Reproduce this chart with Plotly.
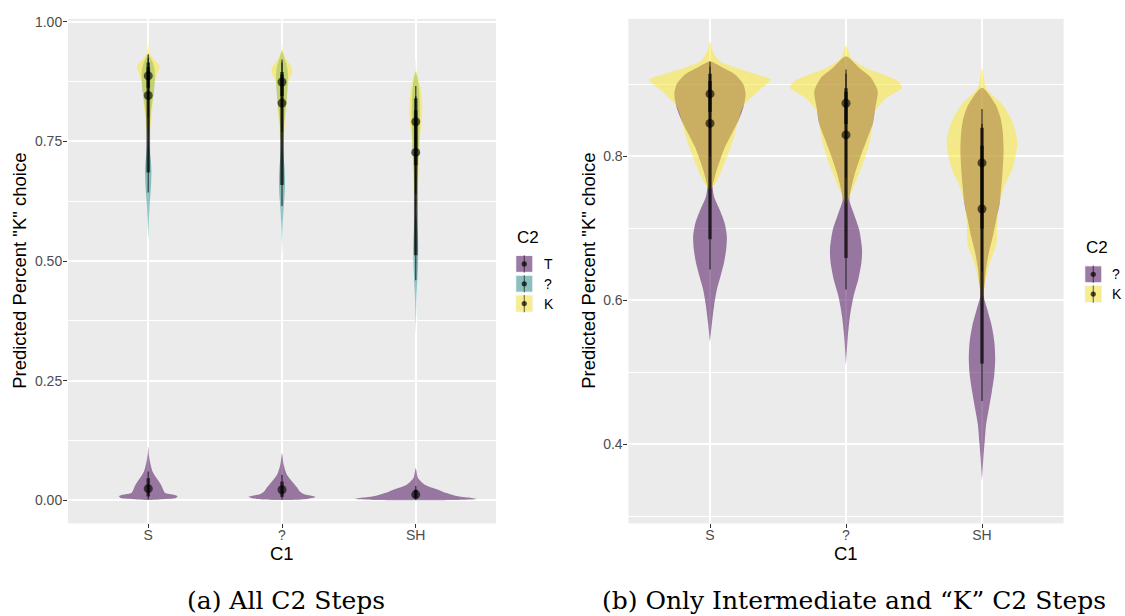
import plotly.graph_objects as go

W, H = 1125, 616

# ---------------- data ----------------
CATEGORIES = ["S", "?", "SH"]
C2_ALL = ["T", "?", "K"]
C2_SUB = ["?", "K"]

# violin profiles: y values (top -> bottom) and half-widths (category units, panel b scale)
K_S_Y = [0.960, 0.946, 0.932, 0.923, 0.914, 0.907, 0.891, 0.870, 0.850, 0.827, 0.804, 0.781, 0.762, 0.753]
K_S_W = [0.0, 0.020, 0.074, 0.196, 0.343, 0.446, 0.355, 0.245, 0.208, 0.176, 0.135, 0.086, 0.037, 0.0]
K_Q_Y = [0.9545, 0.937, 0.923, 0.914, 0.905, 0.8957, 0.882, 0.8635, 0.845, 0.822, 0.799, 0.776, 0.753, 0.7394, 0.7325]
K_Q_W = [0.0, 0.037, 0.147, 0.270, 0.380, 0.412, 0.300, 0.216, 0.196, 0.176, 0.140, 0.095, 0.045, 0.015, 0.0]
K_SH_Y = [0.9233, 0.8957, 0.8728, 0.8544, 0.836, 0.8176, 0.7992, 0.7809, 0.7625, 0.7441, 0.7257, 0.7073,
          0.6889, 0.6751, 0.6613, 0.643, 0.6246, 0.6062, 0.5924]
K_SH_W = [0.0, 0.030, 0.147, 0.208, 0.245, 0.260, 0.245, 0.220, 0.172, 0.140, 0.120, 0.112, 0.110, 0.103,
          0.074, 0.044, 0.0245, 0.007, 0.0]

Q_S_Y = [0.932, 0.923, 0.914, 0.9004, 0.8866, 0.8682, 0.8498, 0.8314, 0.8131, 0.7947, 0.7763, 0.7579, 0.7441,
         0.7257, 0.7073, 0.6889, 0.6706, 0.6522, 0.6338, 0.6154, 0.5924, 0.5694, 0.5419]
Q_S_W = [0.0, 0.098, 0.184, 0.245, 0.262, 0.245, 0.208, 0.159, 0.110, 0.074, 0.042, 0.020, 0.030, 0.072, 0.108,
         0.124, 0.119, 0.103, 0.078, 0.051, 0.030, 0.015, 0.0]
Q_Q_Y = [0.9394, 0.923, 0.9095, 0.891, 0.868, 0.845, 0.822, 0.799, 0.776, 0.753, 0.7394, 0.721, 0.698, 0.6705,
         0.652, 0.629, 0.606, 0.579, 0.547, 0.510]
Q_Q_W = [0.0, 0.098, 0.184, 0.233, 0.216, 0.196, 0.150, 0.105, 0.065, 0.035, 0.0245, 0.056, 0.097, 0.118, 0.113,
         0.090, 0.056, 0.030, 0.012, 0.0]
Q_SH_Y = [0.8957, 0.8728, 0.8544, 0.836, 0.8084, 0.7809, 0.7579, 0.7349, 0.7119, 0.6889, 0.6659, 0.643, 0.6246,
          0.6062, 0.5878, 0.5648, 0.5418, 0.5188, 0.4958, 0.4728, 0.4498, 0.4268, 0.4039, 0.3809, 0.3487]
Q_SH_W = [0.0, 0.098, 0.135, 0.152, 0.159, 0.152, 0.142, 0.130, 0.105, 0.080, 0.050, 0.029, 0.020, 0.012, 0.038,
          0.071, 0.091, 0.097, 0.090, 0.072, 0.051, 0.030, 0.020, 0.010, 0.0]

# "T" violins (panel a only, panel a scale)
T_S_Y = [0.112, 0.0947, 0.0809, 0.0602, 0.0463, 0.0325, 0.0201, 0.0152, 0.0118, 0.0083, 0.0048, 0.0021, 0.0007]
T_S_W = [0.0, 0.005, 0.0125, 0.032, 0.062, 0.095, 0.115, 0.127, 0.182, 0.219, 0.207, 0.100, 0.025]
T_Q_Y = [0.0982, 0.074, 0.0532, 0.0394, 0.027, 0.0187, 0.0131, 0.0097, 0.007, 0.0028, 0.0007]
T_Q_W = [0.0, 0.0125, 0.037, 0.075, 0.112, 0.132, 0.162, 0.212, 0.249, 0.187, 0.062]
T_SH_Y = [0.067, 0.0463, 0.0325, 0.0222, 0.0152, 0.0083, 0.0048, 0.0028, 0.0007]
T_SH_W = [0.0, 0.017, 0.067, 0.167, 0.229, 0.316, 0.416, 0.453, 0.290]

# point-interval summaries (median, 66% thick, 95% thin)
Q_MEDIAN = [0.846, 0.830, 0.727]
Q_THICK_LO = [0.685, 0.659, 0.512]
Q_THICK_HI = [0.915, 0.890, 0.840]
Q_THIN_LO = [0.643, 0.615, 0.460]
Q_THIN_HI = [0.932, 0.921, 0.866]
K_MEDIAN = [0.887, 0.874, 0.791]
K_THICK_LO = [0.862, 0.845, 0.700]
K_THICK_HI = [0.905, 0.895, 0.815]
K_THIN_LO = [0.800, 0.770, 0.640]
K_THIN_HI = [0.925, 0.915, 0.845]
T_MEDIAN = [0.0242, 0.022, 0.0118]
T_THICK_LO = [0.008, 0.007, 0.004]
T_THICK_HI = [0.046, 0.039, 0.022]
T_THIN_LO = [0.002, 0.002, 0.001]
T_THIN_HI = [0.060, 0.053, 0.030]

LEFT_TICKS = [0.0, 0.25, 0.5, 0.75, 1.0]
LEFT_TICKTEXT = ["0.00", "0.25", "0.50", "0.75", "1.00"]
RIGHT_TICKS = [0.4, 0.6, 0.8]
RIGHT_TICKTEXT = ["0.4", "0.6", "0.8"]

# ---------------- style ----------------
PURPLE = "rgba(68,1,84,0.5)"
TEAL = "rgba(33,144,140,0.5)"
YELLOW = "rgba(253,231,37,0.5)"
INK = "rgba(0,0,0,0.62)"
LEFT_SCALE = 0.19   # panel (a) violins are narrower (area scaling with T)
FONT = "Liberation Sans, Arial, sans-serif"

fig = go.Figure()


def violin(ax, cat_idx, ys, ws, color, scale=1.0):
    c = cat_idx + 1
    xs = [c + w * scale for w in ws] + [c - w * scale for w in ws[::-1]]
    yy = list(ys) + list(ys[::-1])
    fig.add_trace(go.Scatter(
        x=xs, y=yy, xaxis="x" + ax, yaxis="y" + ax, mode="lines",
        fill="toself", fillcolor=color,
        line=dict(width=0, color="rgba(0,0,0,0)", shape="spline", smoothing=0.7),
        hoverinfo="skip", showlegend=False))


def intervals(ax, medians, tlo, thi, nlo, nhi):
    xs_thin, ys_thin, xs_thick, ys_thick = [], [], [], []
    for i in range(len(medians)):
        c = i + 1
        xs_thin += [c, c, None]
        ys_thin += [nlo[i], nhi[i], None]
        xs_thick += [c, c, None]
        ys_thick += [tlo[i], thi[i], None]
    fig.add_trace(go.Scatter(x=xs_thin, y=ys_thin, xaxis="x" + ax, yaxis="y" + ax, mode="lines",
                             line=dict(color=INK, width=1.4), hoverinfo="skip", showlegend=False))
    fig.add_trace(go.Scatter(x=xs_thick, y=ys_thick, xaxis="x" + ax, yaxis="y" + ax, mode="lines",
                             line=dict(color=INK, width=3.6), hoverinfo="skip", showlegend=False))
    fig.add_trace(go.Scatter(x=[i + 1 for i in range(len(medians))], y=medians,
                             xaxis="x" + ax, yaxis="y" + ax, mode="markers",
                             marker=dict(color=INK, size=9, line=dict(width=0)),
                             hoverinfo="skip", showlegend=False))


# panel (a): all C2 steps
for i, (ys, ws) in enumerate([(T_S_Y, T_S_W), (T_Q_Y, T_Q_W), (T_SH_Y, T_SH_W)]):
    violin("", i, ys, ws, PURPLE)
for i, (ys, ws) in enumerate([(Q_S_Y, Q_S_W), (Q_Q_Y, Q_Q_W), (Q_SH_Y, Q_SH_W)]):
    violin("", i, ys, ws, TEAL, LEFT_SCALE)
for i, (ys, ws) in enumerate([(K_S_Y, K_S_W), (K_Q_Y, K_Q_W), (K_SH_Y, K_SH_W)]):
    violin("", i, ys, ws, YELLOW, LEFT_SCALE)
intervals("", T_MEDIAN, T_THICK_LO, T_THICK_HI, T_THIN_LO, T_THIN_HI)
intervals("", Q_MEDIAN, Q_THICK_LO, Q_THICK_HI, Q_THIN_LO, Q_THIN_HI)
intervals("", K_MEDIAN, K_THICK_LO, K_THICK_HI, K_THIN_LO, K_THIN_HI)

# panel (b): intermediate and K
for i, (ys, ws) in enumerate([(Q_S_Y, Q_S_W), (Q_Q_Y, Q_Q_W), (Q_SH_Y, Q_SH_W)]):
    violin("2", i, ys, ws, PURPLE)
for i, (ys, ws) in enumerate([(K_S_Y, K_S_W), (K_Q_Y, K_Q_W), (K_SH_Y, K_SH_W)]):
    violin("2", i, ys, ws, YELLOW)
intervals("2", Q_MEDIAN, Q_THICK_LO, Q_THICK_HI, Q_THIN_LO, Q_THIN_HI)
intervals("2", K_MEDIAN, K_THICK_LO, K_THICK_HI, K_THIN_LO, K_THIN_HI)


def px(x):
    return x / W


def py(y):
    return 1 - y / H


axis_common = dict(showgrid=True, gridcolor="white", gridwidth=2, zeroline=False, showline=False,
                   ticks="outside", ticklen=4, tickwidth=1, tickcolor="#333333",
                   tickfont=dict(family=FONT, size=14, color="#4D4D4D"), fixedrange=True)

fig.update_layout(
    width=W, height=H, margin=dict(l=0, r=0, t=0, b=0),
    paper_bgcolor="white", plot_bgcolor="#EBEBEB", showlegend=False,
    xaxis=dict(domain=[px(68), px(496)], range=[0.4, 3.6], tickmode="array",
               tickvals=[1, 2, 3], ticktext=CATEGORIES, anchor="y", ticklabelstandoff=-5,
               **axis_common),
    yaxis=dict(domain=[py(522.7), py(14)], range=[-0.0485, 1.006], tickmode="array",
               tickvals=LEFT_TICKS, ticktext=LEFT_TICKTEXT, anchor="x", ticklabelstandoff=-2,
               minor=dict(tickmode="array", tickvals=[0.125, 0.375, 0.625, 0.875], showgrid=True,
                          gridcolor="white", gridwidth=1, ticks=""),
               **axis_common),
    xaxis2=dict(domain=[px(628.4), px(1063.6)], range=[0.4, 3.6], tickmode="array",
                tickvals=[1, 2, 3], ticktext=CATEGORIES, anchor="y2", ticklabelstandoff=-5,
                **axis_common),
    yaxis2=dict(domain=[py(522.7), py(14)], range=[0.2897, 0.9913], tickmode="array",
                tickvals=RIGHT_TICKS, ticktext=RIGHT_TICKTEXT, anchor="x2", ticklabelstandoff=-2,
                minor=dict(tickmode="array", tickvals=[0.3, 0.5, 0.7, 0.9], showgrid=True,
                           gridcolor="white", gridwidth=1, ticks=""),
                **axis_common),
)

ann = []
shapes = []
title_font = dict(family=FONT, size=18.5, color="black")

# axis titles
ann.append(dict(text='Predicted Percent "K" choice', x=px(20), y=py(268), xref="paper", yref="paper",
                textangle=-90, showarrow=False, xanchor="center", yanchor="middle", font=title_font))
ann.append(dict(text='Predicted Percent "K" choice', x=px(589), y=py(268), xref="paper", yref="paper",
                textangle=-90, showarrow=False, xanchor="center", yanchor="middle", font=title_font))
ann.append(dict(text="C1", x=px(282), y=py(553), xref="paper", yref="paper", showarrow=False,
                xanchor="center", yanchor="middle", font=title_font))
ann.append(dict(text="C1", x=px(846), y=py(553), xref="paper", yref="paper", showarrow=False,
                xanchor="center", yanchor="middle", font=title_font))

# captions
cap_font = dict(family="DejaVu Serif, serif", size=25, color="black")
ann.append(dict(text="(a) All C2 Steps", x=px(286), y=py(600), xref="paper", yref="paper",
                showarrow=False, xanchor="center", yanchor="middle", font=cap_font))
ann.append(dict(text="(b) Only Intermediate and \u201cK\u201d C2 Steps", x=px(854), y=py(600),
                xref="paper", yref="paper", showarrow=False, xanchor="center", yanchor="middle",
                font=cap_font))


def legend(x0, title_y, key_top, labels, colors, label_x):
    ann.append(dict(text="C2", x=px(x0 - 1), y=py(title_y), xref="paper", yref="paper", showarrow=False,
                    xanchor="left", yanchor="middle", font=dict(family=FONT, size=17, color="black")))
    k = 17.5
    for i, (lab, col) in enumerate(zip(labels, colors)):
        top = key_top + i * 20
        shapes.append(dict(type="rect", xref="paper", yref="paper", x0=px(x0), x1=px(x0 + k),
                           y0=py(top + k), y1=py(top), fillcolor="#F2F2F2", line=dict(width=0)))
        shapes.append(dict(type="rect", xref="paper", yref="paper", x0=px(x0 + 0.8), x1=px(x0 + k - 0.8),
                           y0=py(top + k - 0.8), y1=py(top + 0.8), fillcolor=col, line=dict(width=0)))
        cx = x0 + k / 2
        cy = top + k / 2
        shapes.append(dict(type="line", xref="paper", yref="paper", x0=px(cx), x1=px(cx),
                           y0=py(top + k), y1=py(top), line=dict(color=INK, width=1)))
        shapes.append(dict(type="circle", xref="paper", yref="paper", x0=px(cx - 2.6), x1=px(cx + 2.6),
                           y0=py(cy + 2.6), y1=py(cy - 2.6), fillcolor="rgba(0,0,0,0.7)", line=dict(width=0)))
        ann.append(dict(text=lab, x=px(label_x), y=py(cy), xref="paper", yref="paper", showarrow=False,
                        xanchor="left", yanchor="middle", font=dict(family=FONT, size=14, color="black")))


legend(515.5, 234, 252.3, C2_ALL, [PURPLE, TEAL, YELLOW], 542)
legend(1084.5, 244, 262.7, C2_SUB, [PURPLE, YELLOW], 1110)

fig.update_layout(annotations=ann, shapes=shapes)
fig.write_html("out.html", config={"displayModeBar": False},
               post_script="document.body.style.margin='0';document.body.style.overflow='hidden';")
